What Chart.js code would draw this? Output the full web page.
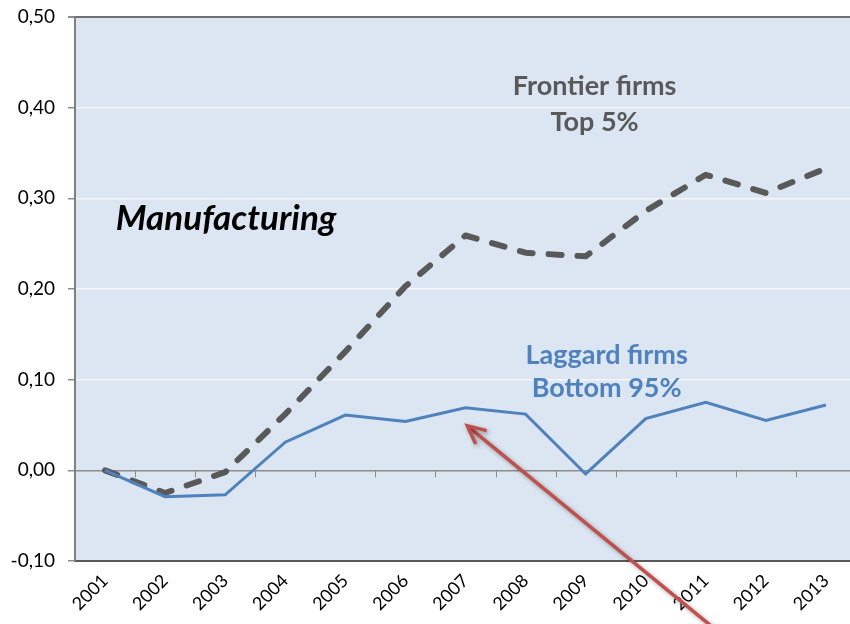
<!DOCTYPE html>
<html lang="en">

<head>
    <meta charset="UTF-8">
    <title>Manufacturing - Frontier vs Laggard firms</title>
    <script src="https://cdn.jsdelivr.net/npm/chart.js"></script>
    <style>
        body { margin: 0; overflow: hidden; background: #ffffff; }
        .grafico { width: 860px; height: 624px; }
    </style>
</head>

<body>
    <div class="grafico">
        <canvas id="grafico" width="860" height="624"></canvas>
    </div>
</body>

</html>

<script>
    // dados
    const anos = ['2001', '2002', '2003', '2004', '2005', '2006', '2007', '2008', '2009', '2010', '2011', '2012', '2013'];
    const frontier = [0.000, -0.025, -0.002, 0.062, 0.131, 0.203, 0.259, 0.240, 0.236, 0.286, 0.326, 0.306, 0.333];
    const laggard = [0.000, -0.029, -0.027, 0.031, 0.061, 0.054, 0.069, 0.062, -0.004, 0.057, 0.075, 0.055, 0.072];
    const yTicks = [-0.10, 0.00, 0.10, 0.20, 0.30, 0.40, 0.50];

    // textos e seta, em coordenadas do grafico (indice do ano, valor)
    const rotulos = [
        { texto: 'Frontier firms', x: 8.15, y: 0.424, cor: '#595959', fonte: 'bold 27px Lato', alinhar: 'center' },
        { texto: 'Top 5%', x: 8.15, y: 0.384, cor: '#595959', fonte: 'bold 27px Lato', alinhar: 'center' },
        { texto: 'Laggard firms', x: 8.35, y: 0.127, cor: '#4f81bd', fonte: 'bold 27px Lato', alinhar: 'center' },
        { texto: 'Bottom 95%', x: 8.35, y: 0.091, cor: '#4f81bd', fonte: 'bold 27px Lato', alinhar: 'center' },
        { texto: 'Manufacturing', x: 0.18, y: 0.278, cor: '#000000', fonte: 'italic bold 35px Lato', alinhar: 'left' }
    ];
    const setaDe = [10.15, -0.175];
    const setaPara = [6.03, 0.049];

    const fundoPlot = {
        id: 'fundoPlot',
        beforeDraw(chart) {
            const { ctx, chartArea } = chart;
            ctx.save();
            ctx.fillStyle = '#dce6f2';
            ctx.fillRect(chartArea.left, chartArea.top, chartArea.right - chartArea.left, chartArea.bottom - chartArea.top);
            ctx.restore();
        },
        afterDatasetsDraw(chart) {
            // marcas do eixo de categorias sobre a linha do zero
            const { ctx } = chart;
            const x = chart.scales.x;
            const y0 = chart.scales.y.getPixelForValue(0);
            ctx.save();
            ctx.strokeStyle = '#8c8c8c';
            ctx.lineWidth = 1;
            for (let i = 1; i <= anos.length; i++) {
                const px = Math.round(x.getPixelForValue(i - 0.5)) + 0.5;
                ctx.beginPath();
                ctx.moveTo(px, y0);
                ctx.lineTo(px, y0 + 7);
                ctx.stroke();
            }
            ctx.restore();
        },
        afterDraw(chart) {
            const { ctx } = chart;
            const x = chart.scales.x;
            const y = chart.scales.y;
            ctx.save();
            rotulos.forEach(r => {
                ctx.font = r.fonte;
                ctx.fillStyle = r.cor;
                ctx.textAlign = r.alinhar;
                ctx.textBaseline = 'middle';
                ctx.fillText(r.texto, x.getPixelForValue(r.x), y.getPixelForValue(r.y));
            });

            // seta vermelha
            const x1 = x.getPixelForValue(setaDe[0]), y1 = y.getPixelForValue(setaDe[1]);
            const x2 = x.getPixelForValue(setaPara[0]), y2 = y.getPixelForValue(setaPara[1]);
            const ang = Math.atan2(y2 - y1, x2 - x1);
            ctx.shadowColor = 'rgba(0,0,0,0.35)';
            ctx.shadowBlur = 4;
            ctx.shadowOffsetX = 2;
            ctx.shadowOffsetY = 2;
            ctx.strokeStyle = '#c0504d';
            ctx.lineWidth = 3.5;
            ctx.lineCap = 'butt';
            ctx.lineJoin = 'miter';
            ctx.beginPath();
            ctx.moveTo(x1, y1);
            ctx.lineTo(x2, y2);
            ctx.stroke();
            ctx.beginPath();
            ctx.moveTo(x2 + 20 * Math.cos(ang + Math.PI - 0.45), y2 + 20 * Math.sin(ang + Math.PI - 0.45));
            ctx.lineTo(x2, y2);
            ctx.lineTo(x2 + 20 * Math.cos(ang + Math.PI + 0.45), y2 + 20 * Math.sin(ang + Math.PI + 0.45));
            ctx.stroke();
            ctx.restore();
        }
    };

    const data = {
        labels: anos,
        datasets: [
            {
                label: 'Laggard firms - Bottom 95%',
                data: laggard,
                borderColor: '#4f81bd',
                borderWidth: 3,
                pointRadius: 0,
                tension: 0
            },
            {
                label: 'Frontier firms - Top 5%',
                data: frontier,
                borderColor: '#595959',
                borderWidth: 6,
                borderDash: [13, 16],
                borderCapStyle: 'round',
                borderJoinStyle: 'round',
                pointRadius: 0,
                tension: 0
            }
        ]
    };

    const config = {
        type: 'line',
        data: data,
        options: {
            responsive: false,
            animation: false,
            layout: {
                padding: { top: 17, right: 4, left: 0, bottom: 0 }
            },
            plugins: {
                legend: { display: false },
                tooltip: { enabled: false }
            },
            scales: {
                x: {
                    offset: true,
                    grid: { display: false, drawTicks: false },
                    border: { display: true, color: '#595959', width: 2 },
                    ticks: {
                        color: '#000000',
                        font: { family: 'Lato', size: 18 },
                        minRotation: 45,
                        maxRotation: 45,
                        padding: 9
                    },
                    afterFit(scale) { scale.height = 63; scale.paddingLeft = 0; scale.paddingRight = 0; }
                },
                y: {
                    min: -0.10,
                    max: 0.50,
                    afterBuildTicks(scale) { scale.ticks = yTicks.map(v => ({ value: v })); },
                    grid: {
                        color(ctx) {
                            const v = ctx.tick.value;
                            if (Math.abs(v) < 1e-9) return '#8c8c8c';
                            if (v > 0.49) return '#6f6f6f';
                            return '#f4f6f9';
                        },
                        lineWidth(ctx) {
                            return ctx.tick.value > 0.49 ? 2 : 1.5;
                        },
                        tickColor: '#8c8c8c',
                        tickLength: 7
                    },
                    border: { display: true, color: '#808080', width: 2 },
                    ticks: {
                        color: '#000000',
                        font: { family: 'Lato', size: 19 },
                        padding: 13,
                        callback(v) { return v.toFixed(2).replace('.', ','); }
                    },
                    afterFit(scale) { scale.width = 75; scale.paddingTop = 0; scale.paddingBottom = 0; }
                }
            }
        },
        plugins: [fundoPlot]
    };

    let myChart = new Chart(document.getElementById('grafico'), config);
</script>
